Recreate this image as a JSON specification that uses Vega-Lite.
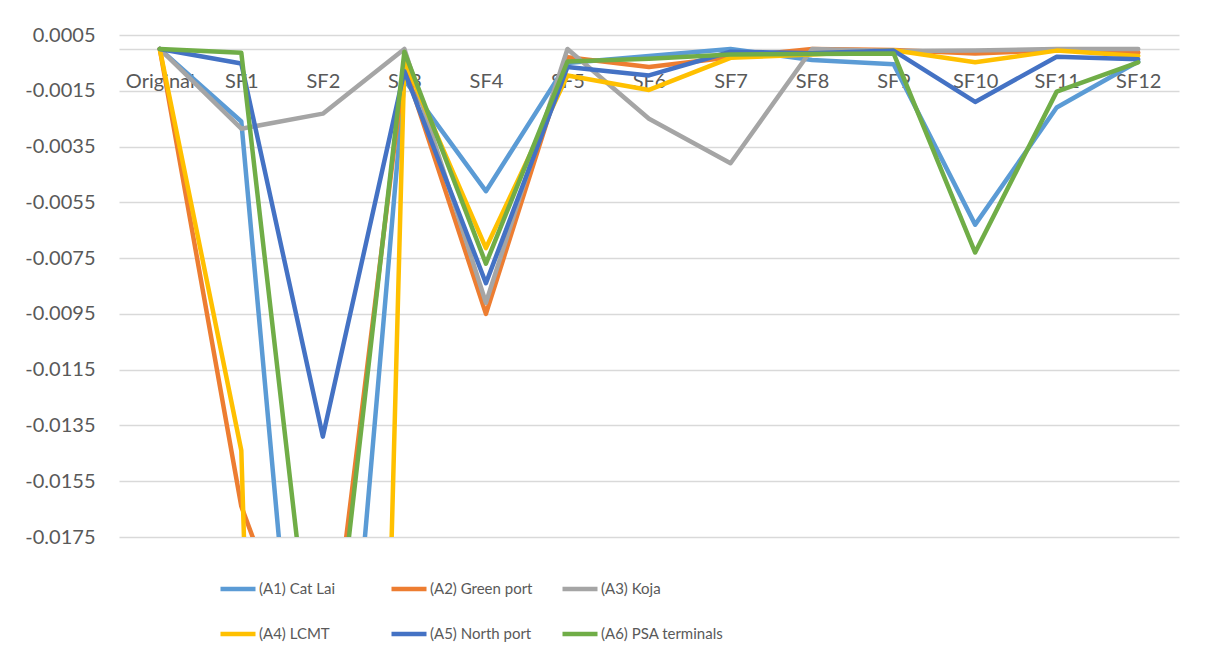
{
  "$schema": "https://vega.github.io/schema/vega-lite/v6.json",
  "width": 1060,
  "height": 502,
  "autosize": {"type": "none"},
  "padding": {"left": 119, "top": 35, "right": 29, "bottom": 126},
  "background": "white",
  "config": {"view": {"stroke": null}, "font": "Lato"},
  "data": {"values": [
    {"series": "(A1) Cat Lai", "category": "Original", "value": 0},
    {"series": "(A1) Cat Lai", "category": "SF1", "value": -0.0026},
    {"series": "(A1) Cat Lai", "category": "SF2", "value": -0.035},
    {"series": "(A1) Cat Lai", "category": "SF3", "value": -0.0011},
    {"series": "(A1) Cat Lai", "category": "SF4", "value": -0.0051},
    {"series": "(A1) Cat Lai", "category": "SF5", "value": -0.0005},
    {"series": "(A1) Cat Lai", "category": "SF6", "value": -0.00025},
    {"series": "(A1) Cat Lai", "category": "SF7", "value": 0},
    {"series": "(A1) Cat Lai", "category": "SF8", "value": -0.0004},
    {"series": "(A1) Cat Lai", "category": "SF9", "value": -0.00055},
    {"series": "(A1) Cat Lai", "category": "SF10", "value": -0.0063},
    {"series": "(A1) Cat Lai", "category": "SF11", "value": -0.0021},
    {"series": "(A1) Cat Lai", "category": "SF12", "value": -0.00045},
    {"series": "(A2) Green port", "category": "Original", "value": 0},
    {"series": "(A2) Green port", "category": "SF1", "value": -0.0164},
    {"series": "(A2) Green port", "category": "SF2", "value": -0.0243},
    {"series": "(A2) Green port", "category": "SF3", "value": -0.0006},
    {"series": "(A2) Green port", "category": "SF4", "value": -0.0095},
    {"series": "(A2) Green port", "category": "SF5", "value": -0.0003},
    {"series": "(A2) Green port", "category": "SF6", "value": -0.00065},
    {"series": "(A2) Green port", "category": "SF7", "value": -0.0003},
    {"series": "(A2) Green port", "category": "SF8", "value": 0},
    {"series": "(A2) Green port", "category": "SF9", "value": -0.00004},
    {"series": "(A2) Green port", "category": "SF10", "value": -0.00016},
    {"series": "(A2) Green port", "category": "SF11", "value": -0.00005},
    {"series": "(A2) Green port", "category": "SF12", "value": -0.00013},
    {"series": "(A3) Koja", "category": "Original", "value": 0},
    {"series": "(A3) Koja", "category": "SF1", "value": -0.00286},
    {"series": "(A3) Koja", "category": "SF2", "value": -0.00232},
    {"series": "(A3) Koja", "category": "SF3", "value": 0},
    {"series": "(A3) Koja", "category": "SF4", "value": -0.0091},
    {"series": "(A3) Koja", "category": "SF5", "value": 0},
    {"series": "(A3) Koja", "category": "SF6", "value": -0.0025},
    {"series": "(A3) Koja", "category": "SF7", "value": -0.0041},
    {"series": "(A3) Koja", "category": "SF8", "value": 0},
    {"series": "(A3) Koja", "category": "SF9", "value": -0.00007},
    {"series": "(A3) Koja", "category": "SF10", "value": -0.00006},
    {"series": "(A3) Koja", "category": "SF11", "value": 0},
    {"series": "(A3) Koja", "category": "SF12", "value": 0},
    {"series": "(A4) LCMT", "category": "Original", "value": 0},
    {"series": "(A4) LCMT", "category": "SF1", "value": -0.0144},
    {"series": "(A4) LCMT", "category": "SF2", "value": -0.11},
    {"series": "(A4) LCMT", "category": "SF3", "value": -0.0004},
    {"series": "(A4) LCMT", "category": "SF4", "value": -0.00714},
    {"series": "(A4) LCMT", "category": "SF5", "value": -0.00095},
    {"series": "(A4) LCMT", "category": "SF6", "value": -0.00147},
    {"series": "(A4) LCMT", "category": "SF7", "value": -0.00032},
    {"series": "(A4) LCMT", "category": "SF8", "value": -0.0002},
    {"series": "(A4) LCMT", "category": "SF9", "value": -0.00005},
    {"series": "(A4) LCMT", "category": "SF10", "value": -0.00048},
    {"series": "(A4) LCMT", "category": "SF11", "value": -0.00006},
    {"series": "(A4) LCMT", "category": "SF12", "value": -0.00025},
    {"series": "(A5) North port", "category": "Original", "value": 0},
    {"series": "(A5) North port", "category": "SF1", "value": -0.00052},
    {"series": "(A5) North port", "category": "SF2", "value": -0.0139},
    {"series": "(A5) North port", "category": "SF3", "value": -0.0008},
    {"series": "(A5) North port", "category": "SF4", "value": -0.0084},
    {"series": "(A5) North port", "category": "SF5", "value": -0.00065},
    {"series": "(A5) North port", "category": "SF6", "value": -0.00095},
    {"series": "(A5) North port", "category": "SF7", "value": -0.0001},
    {"series": "(A5) North port", "category": "SF8", "value": -0.00015},
    {"series": "(A5) North port", "category": "SF9", "value": -0.00006},
    {"series": "(A5) North port", "category": "SF10", "value": -0.0019},
    {"series": "(A5) North port", "category": "SF11", "value": -0.00028},
    {"series": "(A5) North port", "category": "SF12", "value": -0.00037},
    {"series": "(A6) PSA terminals", "category": "Original", "value": 0},
    {"series": "(A6) PSA terminals", "category": "SF1", "value": -0.00014},
    {"series": "(A6) PSA terminals", "category": "SF2", "value": -0.0257},
    {"series": "(A6) PSA terminals", "category": "SF3", "value": -0.0001},
    {"series": "(A6) PSA terminals", "category": "SF4", "value": -0.0077},
    {"series": "(A6) PSA terminals", "category": "SF5", "value": -0.00045},
    {"series": "(A6) PSA terminals", "category": "SF6", "value": -0.00035},
    {"series": "(A6) PSA terminals", "category": "SF7", "value": -0.0002},
    {"series": "(A6) PSA terminals", "category": "SF8", "value": -0.00018},
    {"series": "(A6) PSA terminals", "category": "SF9", "value": -0.00016},
    {"series": "(A6) PSA terminals", "category": "SF10", "value": -0.0073},
    {"series": "(A6) PSA terminals", "category": "SF11", "value": -0.00153},
    {"series": "(A6) PSA terminals", "category": "SF12", "value": -0.00048}
  ]},
  "mark": {"type": "line", "strokeWidth": 4.5, "strokeJoin": "round", "strokeCap": "round", "clip": true},
  "encoding": {
    "x": {
      "field": "category", "type": "ordinal",
      "sort": ["Original", "SF1", "SF2", "SF3", "SF4", "SF5", "SF6", "SF7", "SF8", "SF9", "SF10", "SF11", "SF12"],
      "scale": {"type": "point", "padding": 0.5},
      "axis": {"title": null, "orient": "bottom", "offset": -488, "domain": true, "domainColor": "#d9d9d9", "domainWidth": 1.3, "ticks": false, "grid": false, "labelPadding": 22, "labelFontSize": 20, "labelFont": "Lato", "labelColor": "#595959", "labelAngle": 0}
    },
    "y": {
      "field": "value", "type": "quantitative",
      "scale": {"domain": [-0.0175, 0.0005], "nice": false, "zero": false},
      "axis": {"title": null, "values": [0.0005, -0.0015, -0.0035, -0.0055, -0.0075, -0.0095, -0.0115, -0.0135, -0.0155, -0.0175], "domain": false, "ticks": false, "labelPadding": 24, "labelFontSize": 20, "labelFont": "Lato", "labelColor": "#595959", "gridColor": "#d9d9d9", "gridWidth": 1.3, "labelExpr": "replace(format(datum.value, '.4f'), '\u2212', '-')"}
    },
    "color": {
      "field": "series", "type": "nominal",
      "scale": {"domain": ["(A1) Cat Lai", "(A2) Green port", "(A3) Koja", "(A4) LCMT", "(A5) North port", "(A6) PSA terminals"], "range": ["#5B9BD5", "#ED7D31", "#A5A5A5", "#FFC000", "#4472C4", "#70AD47"]},
      "legend": {"title": null, "orient": "none", "legendX": 99, "legendY": 534, "direction": "horizontal", "columns": 3, "gridAlign": "all", "columnPadding": 0, "rowPadding": 16, "symbolType": "stroke", "symbolSize": 1225, "symbolStrokeWidth": 4.5, "labelFontSize": 15, "labelFont": "Lato", "labelColor": "#595959", "labelOffset": 1, "labelLimit": 300}
    }
  }
}
